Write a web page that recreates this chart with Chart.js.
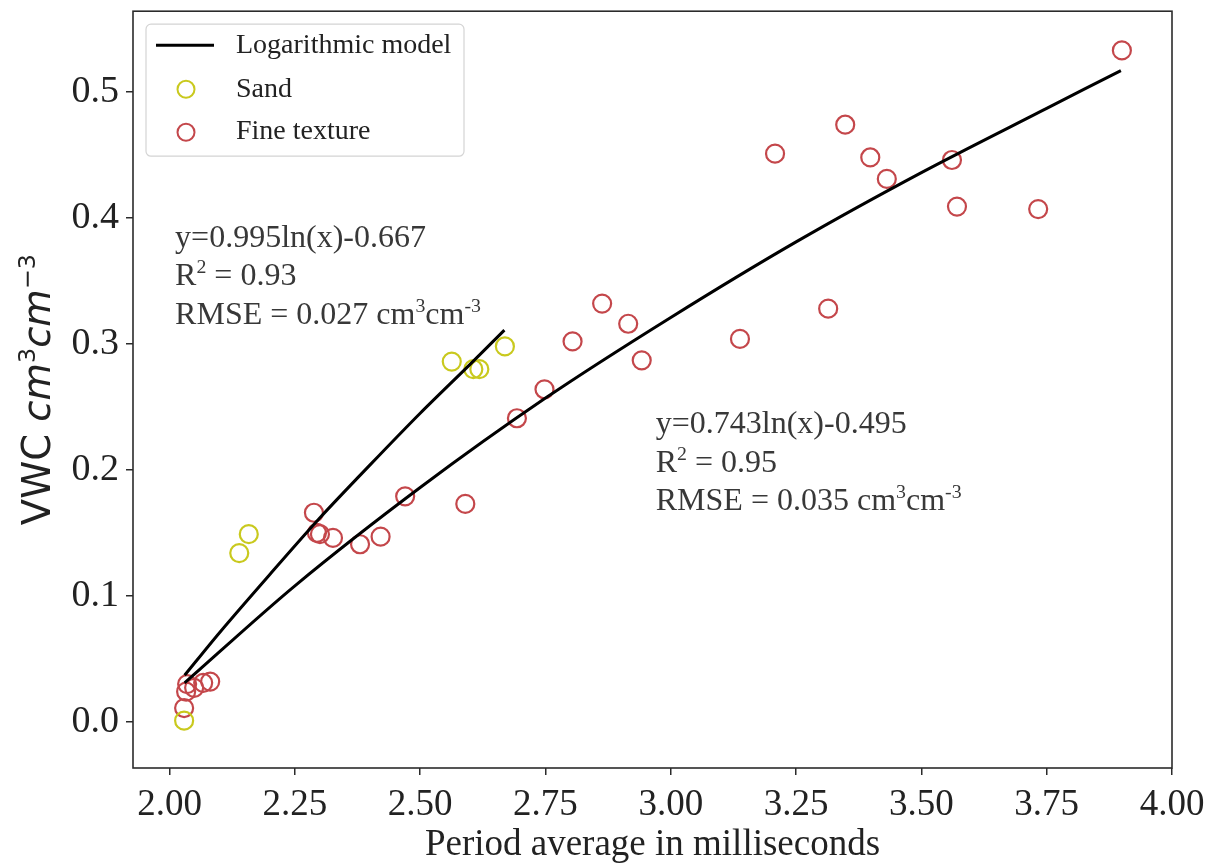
<!DOCTYPE html>
<html lang="en">
<head>
  <meta charset="UTF-8" />
  <title>VWC vs period average</title>
  <script src="https://cdn.jsdelivr.net/npm/chart.js"></script>
  <style>
    html, body { margin: 0; padding: 0; background: #fff; }
    #chart { display: block; }
  </style>
</head>
<body>
  <canvas id="chart" width="1210" height="867"></canvas>

  <script>
    // sand samples (period ms, VWC)
    const sandX = [2.029, 2.139, 2.158, 2.563, 2.606, 2.618, 2.669];
    const sandY = [0.001, 0.134, 0.149, 0.286, 0.280, 0.280, 0.298];

    // fine texture samples
    const fineX = [2.029, 2.033, 2.035, 2.049, 2.067, 2.081, 2.288, 2.294, 2.300, 2.326,
                   2.380, 2.421, 2.470, 2.590, 2.693, 2.748, 2.804, 2.863, 2.915, 2.942,
                   3.138, 3.208, 3.314, 3.348, 3.398, 3.431, 3.561, 3.571, 3.733, 3.900];
    const fineY = [0.011, 0.024, 0.030, 0.027, 0.031, 0.032, 0.166, 0.150, 0.149, 0.146,
                   0.141, 0.147, 0.179, 0.173, 0.241, 0.264, 0.302, 0.332, 0.316, 0.287,
                   0.304, 0.451, 0.328, 0.474, 0.448, 0.431, 0.446, 0.409, 0.407, 0.533];

    // fitted curves
    const sandFitX = [2.03, 2.10, 2.20, 2.30, 2.40, 2.50, 2.60, 2.668];
    const sandFitY = [0.037, 0.071, 0.117, 0.162, 0.204, 0.245, 0.284, 0.311];
    const fineFitX = [2.03, 2.25, 2.50, 2.75, 3.00, 3.25, 3.50, 3.75, 3.898];
    const fineFitY = [0.031, 0.108, 0.186, 0.257, 0.321, 0.381, 0.436, 0.487, 0.517];

    // tick labels
    const xTickValues = [2.00, 2.25, 2.50, 2.75, 3.00, 3.25, 3.50, 3.75, 4.00];
    const yTickValues = [0.0, 0.1, 0.2, 0.3, 0.4, 0.5];

    const SERIF = "'Liberation Serif', 'Times New Roman', serif";
    const SANS = "'DejaVu Sans', sans-serif";
    const SAND_COLOR = '#c9c91e';
    const FINE_COLOR = '#c4474b';

    const pts = (xs, ys) => xs.map((x, i) => ({ x: x, y: ys[i] }));

    // text with superscript parts
    function richWidth(ctx, parts, size, family) {
      let w = 0;
      parts.forEach(p => {
        const s = p.sup ? size * 0.62 : size;
        ctx.font = (p.italic ? 'italic ' : '') + s + 'px ' + family;
        w += ctx.measureText(p.t).width;
      });
      return w;
    }
    function drawRich(ctx, x, y, parts, size, family) {
      let cx = x;
      parts.forEach(p => {
        const s = p.sup ? size * 0.62 : size;
        ctx.font = (p.italic ? 'italic ' : '') + s + 'px ' + family;
        ctx.fillText(p.t, cx, y - (p.sup ? size * 0.38 : 0));
        cx += ctx.measureText(p.t).width;
      });
    }

    const sandNote = [
      [{ t: 'y=0.995ln(x)-0.667' }],
      [{ t: 'R' }, { t: '2', sup: true }, { t: ' = 0.93' }],
      [{ t: 'RMSE = 0.027 cm' }, { t: '3', sup: true }, { t: 'cm' }, { t: '-3', sup: true }]
    ];
    const fineNote = [
      [{ t: 'y=0.743ln(x)-0.495' }],
      [{ t: 'R' }, { t: '2', sup: true }, { t: ' = 0.95' }],
      [{ t: 'RMSE = 0.035 cm' }, { t: '3', sup: true }, { t: 'cm' }, { t: '-3', sup: true }]
    ];

    const extras = {
      id: 'extras',
      afterDatasetsDraw(chart) {
        const ctx = chart.ctx;
        const xs = chart.scales.x, ys = chart.scales.y;
        ctx.save();
        ctx.fillStyle = '#383838';
        ctx.textAlign = 'left';
        ctx.textBaseline = 'alphabetic';
        [[sandNote, 2.011, 0.377], [fineNote, 2.970, 0.229]].forEach(([lines, dx, dy]) => {
          const px = xs.getPixelForValue(dx), py = ys.getPixelForValue(dy);
          lines.forEach((parts, i) => drawRich(ctx, px, py + i * 38.5, parts, 32, SERIF));
        });
        ctx.restore();
      },
      afterDraw(chart) {
        const ctx = chart.ctx;
        const a = chart.chartArea;
        ctx.save();
        // frame
        ctx.strokeStyle = '#2b2b2b';
        ctx.lineWidth = 1.6;
        ctx.strokeRect(a.left, a.top, a.right - a.left, a.bottom - a.top);

        // legend
        const lx = a.left + 13, ly = a.top + 13, lw = 318, lh = 132;
        ctx.beginPath();
        ctx.roundRect(lx, ly, lw, lh, 5);
        ctx.fillStyle = 'rgba(255,255,255,0.85)';
        ctx.fill();
        ctx.strokeStyle = '#d4d4d4';
        ctx.lineWidth = 1.2;
        ctx.stroke();

        const ds = chart.data.datasets;
        ctx.strokeStyle = ds[0].borderColor;
        ctx.lineWidth = 3;
        ctx.beginPath();
        ctx.moveTo(lx + 10, ly + 21);
        ctx.lineTo(lx + 68, ly + 21);
        ctx.stroke();
        [[ds[2], ly + 65], [ds[3], ly + 108]].forEach(([d, cy]) => {
          ctx.strokeStyle = d.borderColor;
          ctx.lineWidth = 2;
          ctx.beginPath();
          ctx.arc(lx + 40, cy, 8.5, 0, Math.PI * 2);
          ctx.stroke();
        });
        ctx.fillStyle = '#222';
        ctx.font = '28px ' + SERIF;
        ctx.textBaseline = 'middle';
        ctx.textAlign = 'left';
        ctx.fillText(ds[0].label, lx + 90, ly + 21);
        ctx.fillText(ds[2].label, lx + 90, ly + 65);
        ctx.fillText(ds[3].label, lx + 90, ly + 107);

        // y axis title
        const title = [{ t: 'VWC ' }, { t: 'cm', italic: true }, { t: '3', sup: true },
                       { t: 'cm', italic: true }, { t: '\u22123', sup: true }];
        const size = 38.5;
        const w = richWidth(ctx, title, size, SANS);
        ctx.translate(50, (a.top + a.bottom) / 2);
        ctx.rotate(-Math.PI / 2);
        ctx.fillStyle = '#222';
        ctx.textBaseline = 'alphabetic';
        drawRich(ctx, -w / 2, 0, title, size, SANS);
        ctx.restore();
      }
    };

    const lineStyle = {
      type: 'scatter', showLine: true, borderColor: '#000', borderWidth: 3,
      pointRadius: 0, pointHoverRadius: 0, fill: false, tension: 0.3
    };

    new Chart(document.getElementById('chart'), {
      type: 'scatter',
      data: {
        datasets: [
          Object.assign({ label: 'Logarithmic model', data: pts(sandFitX, sandFitY) }, lineStyle),
          Object.assign({ label: 'Logarithmic model', data: pts(fineFitX, fineFitY) }, lineStyle),
          {
            label: 'Sand', data: pts(sandX, sandY),
            pointRadius: 9, pointBorderWidth: 2.2, borderColor: SAND_COLOR,
            backgroundColor: 'rgba(0,0,0,0)', pointBackgroundColor: 'rgba(0,0,0,0)'
          },
          {
            label: 'Fine texture', data: pts(fineX, fineY),
            pointRadius: 9, pointBorderWidth: 2.2, borderColor: FINE_COLOR,
            backgroundColor: 'rgba(0,0,0,0)', pointBackgroundColor: 'rgba(0,0,0,0)'
          }
        ]
      },
      options: {
        responsive: false,
        animation: false,
        layout: { padding: { top: 9, right: 38, left: 0, bottom: 0 } },
        plugins: { legend: { display: false }, tooltip: { enabled: false } },
        scales: {
          x: {
            type: 'linear', min: 1.927, max: 4.0,
            afterFit(s) { s.height = 99; s.paddingLeft = 0; s.paddingRight = 0; },
            afterBuildTicks(s) { s.ticks = xTickValues.map(v => ({ value: v })); },
            ticks: {
              color: '#222', padding: 8, maxRotation: 0,
              font: { family: SERIF, size: 37 },
              callback: v => v.toFixed(2)
            },
            grid: { drawOnChartArea: false, drawTicks: true, tickLength: 7, color: '#2b2b2b', lineWidth: 1.5 },
            border: { display: false },
            title: {
              display: true, text: 'Period average in milliseconds', color: '#222',
              font: { family: SERIF, size: 37 }, padding: { top: 0, bottom: 0 }
            }
          },
          y: {
            type: 'linear', min: -0.0366, max: 0.5641,
            afterFit(s) { s.width = 133; s.paddingTop = 0; s.paddingBottom = 0; },
            afterBuildTicks(s) { s.ticks = yTickValues.map(v => ({ value: v })); },
            ticks: {
              color: '#222', padding: 7,
              font: { family: SERIF, size: 38 },
              callback: v => v.toFixed(1)
            },
            grid: { drawOnChartArea: false, drawTicks: true, tickLength: 7, color: '#2b2b2b', lineWidth: 1.5 },
            border: { display: false }
          }
        }
      },
      plugins: [extras]
    });
  </script>
</body>
</html>
